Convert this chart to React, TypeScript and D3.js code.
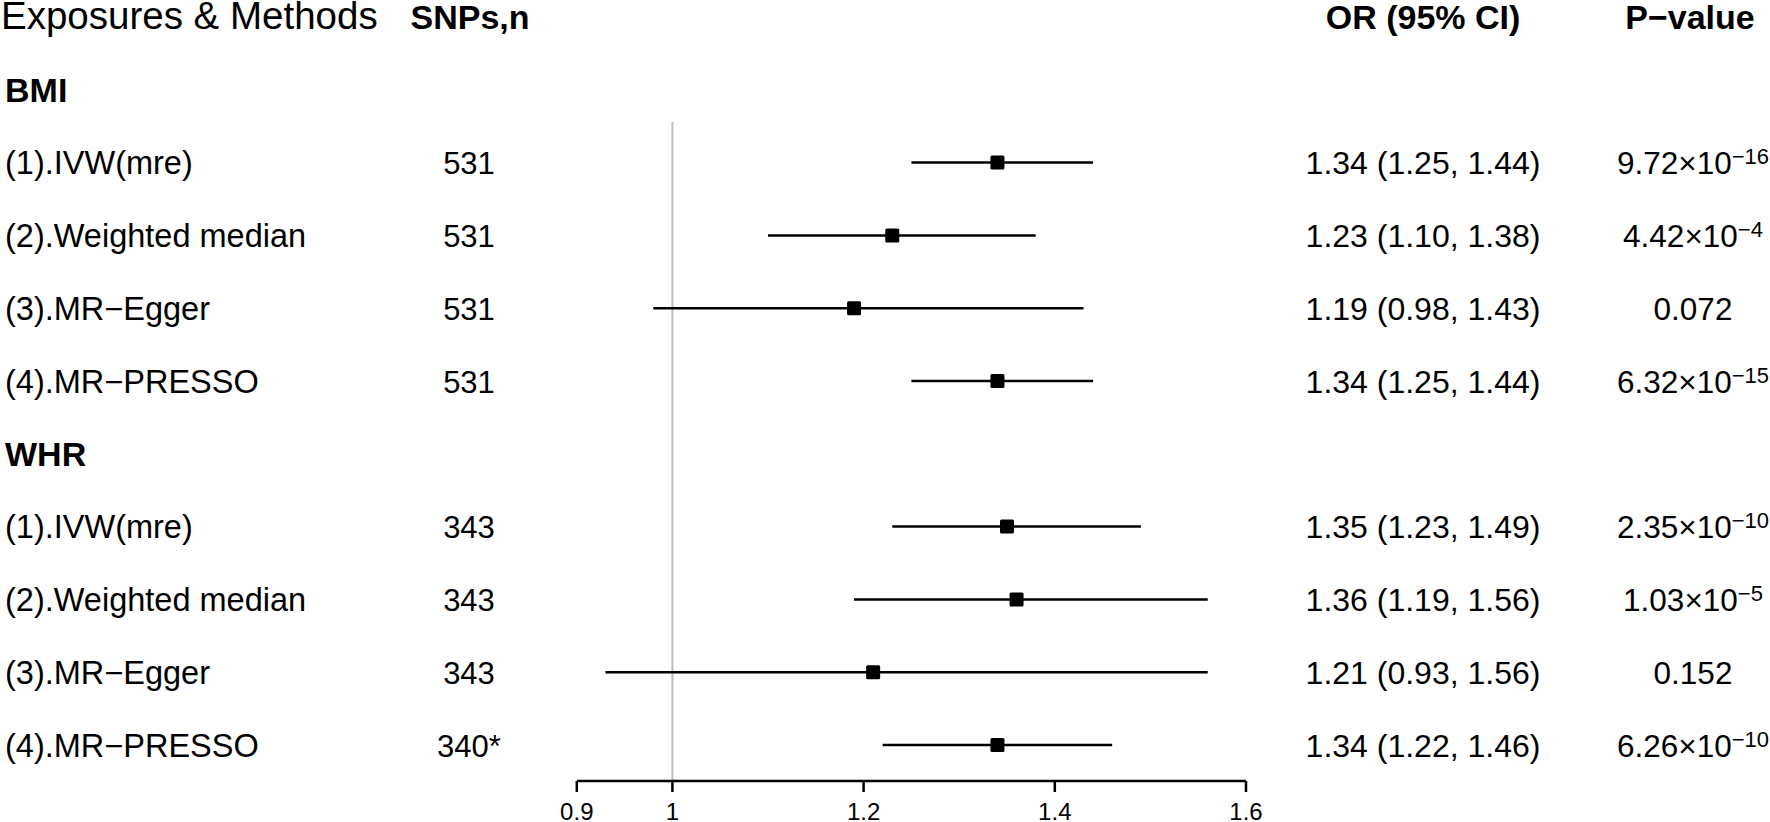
import React from 'react';
import * as d3 from 'd3';

// Table data
const groups = ['BMI', 'WHR'];
const methods = ['(1).IVW(mre)', '(2).Weighted median', '(3).MR−Egger', '(4).MR−PRESSO'];
const snps = ['531', '531', '531', '531', '343', '343', '343', '340*'];
const orValues = [1.34, 1.23, 1.19, 1.34, 1.35, 1.36, 1.21, 1.34];
const lowerCI = [1.25, 1.10, 0.98, 1.25, 1.23, 1.19, 0.93, 1.22];
const upperCI = [1.44, 1.38, 1.43, 1.44, 1.49, 1.56, 1.56, 1.46];
const pMantissa = ['9.72', '4.42', '0.072', '6.32', '2.35', '1.03', '0.152', '6.26'];
const pExponent = ['−16', '−4', '', '−15', '−10', '−5', '', '−10'];
const xTicks = [0.9, 1, 1.2, 1.4, 1.6];

const W = 1770;
const H = 822;
const FONT = '"Liberation Sans", Arial, Helvetica, sans-serif';

const App = () => {
  const x = d3.scaleLinear().domain([0.9, 1.6]).range([576.8, 1246]);
  // row index: 0 = header, 1 = BMI, 2..5 BMI methods, 6 = WHR, 7..10 WHR methods
  const y = d3.scaleLinear().domain([0, 10]).range([17, 745]);
  const axisY = 781;
  const colSnp = 469;
  const colOr = 1423;
  const colP = 1693;
  const box = 14;
  const headBase = 28.5;

  const rows = orValues.map((v, i) => {
    const g = Math.floor(i / 4);
    return {
      label: methods[i % 4],
      row: 2 + g * 5 + (i % 4),
      snp: snps[i],
      or: v,
      lo: lowerCI[i],
      hi: upperCI[i],
      pm: pMantissa[i],
      pe: pExponent[i],
    };
  });

  return (
    <svg width={W} height={H} style={{ position: 'absolute', left: 0, top: 0, background: '#fff' }}
      fontFamily={FONT}>
      {/* header */}
      <text x={1} y={headBase} fontSize={38.5}>Exposures &amp; Methods</text>
      <g fontSize={34} fontWeight="bold" textAnchor="middle">
        <text x={colSnp + 1} y={headBase}>SNPs,n</text>
        <text x={colOr} y={headBase}>OR (95% CI)</text>
        <text x={1690} y={headBase}>P−value</text>
      </g>
      {groups.map((g, gi) => (
        <text key={g} x={5} y={y(1 + gi * 5)} fontSize={34} fontWeight="bold" dominantBaseline="central">{g}</text>
      ))}

      {/* reference line */}
      <line x1={x(1)} x2={x(1)} y1={122} y2={axisY} stroke="#bdbdbd" strokeWidth={2} />

      {/* rows */}
      {rows.map((r, i) => {
        const base = y(r.row) + 11.5;
        return (
          <g key={i}>
            <text x={5} y={base} fontSize={32.5}>{r.label}</text>
            <text x={colSnp} y={base} textAnchor="middle" fontSize={31}>{r.snp}</text>
            <text x={colOr} y={base} textAnchor="middle" fontSize={32}>
              {`${r.or.toFixed(2)} (${r.lo.toFixed(2)}, ${r.hi.toFixed(2)})`}
            </text>
            <text x={colP} y={base} textAnchor="middle" fontSize={31.5}>
              {r.pe ? (
                <>
                  <tspan>{`${r.pm}×10`}</tspan>
                  <tspan fontSize={22} dy={-10}>{r.pe}</tspan>
                </>
              ) : r.pm}
            </text>
            <line x1={x(r.lo)} x2={x(r.hi)} y1={y(r.row)} y2={y(r.row)} stroke="#000" strokeWidth={2.5} />
            <rect x={x(r.or) - box / 2} y={y(r.row) - box / 2} width={box} height={box} rx={1.5} fill="#000" />
          </g>
        );
      })}

      {/* x axis */}
      <g>
        <line x1={x(0.9)} x2={x(1.6)} y1={axisY} y2={axisY} stroke="#000" strokeWidth={2.5} />
        {xTicks.map(t => (
          <g key={t}>
            <line x1={x(t)} x2={x(t)} y1={axisY} y2={axisY + 11} stroke="#000" strokeWidth={2.5} />
            <text x={x(t)} y={axisY + 39} textAnchor="middle" fontSize={24}>{String(t)}</text>
          </g>
        ))}
      </g>
    </svg>
  );
};

export default App;
